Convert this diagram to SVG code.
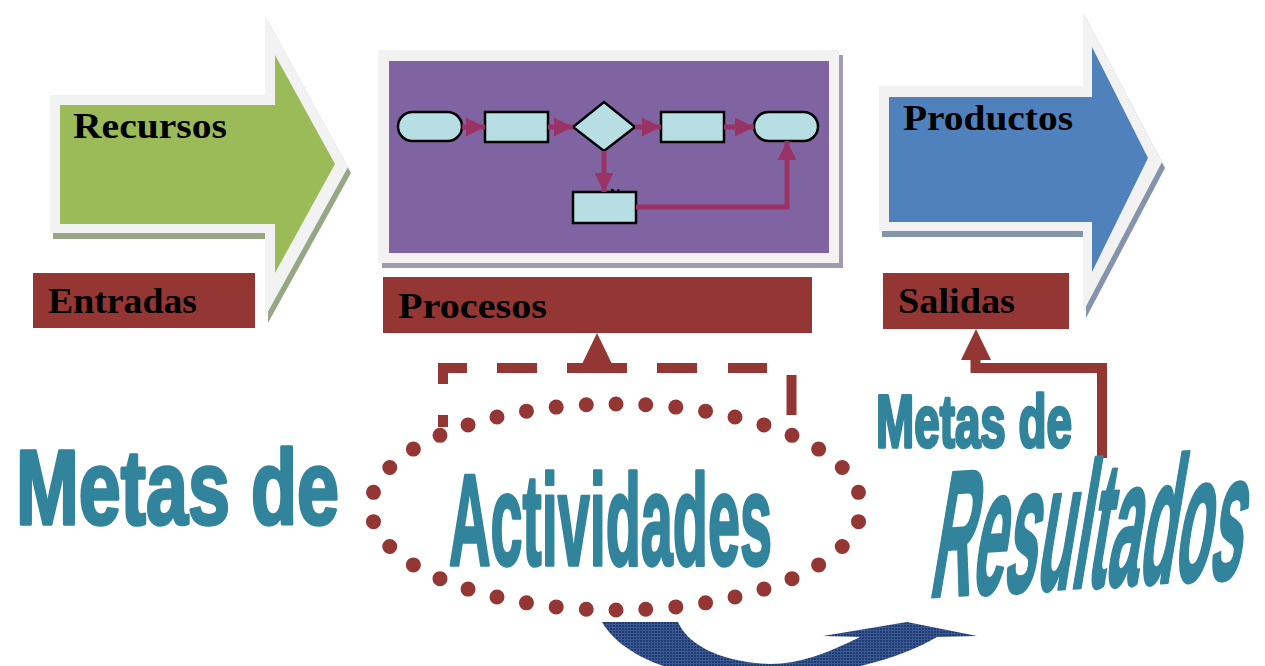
<svg xmlns="http://www.w3.org/2000/svg" width="1265" height="666" viewBox="0 0 1265 666">
<style>
.lbl{font-family:"Liberation Serif","DejaVu Serif",serif;font-weight:bold;font-size:35px;fill:#000}
.big{font-family:"Liberation Sans Narrow","Liberation Sans",Arial,sans-serif;font-weight:bold;fill:#31849b;stroke:#31849b;stroke-width:3.5;stroke-linejoin:round}
.box{fill:#943634}
.frame{fill:#f2f2f2}
.fc{fill:#b7dfe3;stroke:#000;stroke-width:2.5}
.conn{fill:none;stroke:#993366;stroke-width:5}
.red{fill:none;stroke:#943634;stroke-width:10}
.redf{fill:#943634}
</style>
<defs>
<marker id="fa" viewBox="0 0 10 10" refX="10" refY="5" markerWidth="3.8" markerHeight="4.2" orient="auto" markerUnits="strokeWidth">
<path d="M0,0 L10,5 L0,10 Z" fill="#993366"/>
</marker>
<pattern id="navy" width="3" height="3" patternUnits="userSpaceOnUse">
<rect width="3" height="3" fill="#1d3a72"/>
<path d="M0,0.5 H3 M0.5,0 V3" stroke="#3d5a92" stroke-width="1"/>
</pattern>
</defs>

<g id="node-recursos">
<path d="M53,101 H268 V21 L351,173 L268,323 V239 H53 Z" fill="#97a786"/>
<path d="M50,95 H265 V15 L348,167 L265,317 V233 H50 Z" class="frame"/>
<path d="M60,105 H275 V55 L335,164 L275,273 V224 H60 Z" fill="#9bbb59"/>
<text class="lbl" x="73" y="138" textLength="154" lengthAdjust="spacingAndGlyphs">Recursos</text>
</g>

<g id="node-entradas">
<rect class="box" x="33" y="273" width="222" height="55"/>
<text class="lbl" x="48" y="313" textLength="149" lengthAdjust="spacingAndGlyphs">Entradas</text>
</g>

<g id="node-procesos-panel">
<rect x="382" y="55" width="461" height="213" fill="#a19ab0"/>
<rect class="frame" x="378" y="50" width="461" height="213"/>
<rect x="389" y="61" width="440" height="192" fill="#8064a2"/>
</g>

<g id="flow-shapes">
<rect id="fc-start" class="fc" x="398" y="112" width="64" height="29" rx="14.5"/>
<rect id="fc-step1" class="fc" x="485" y="112" width="63" height="30"/>
<path id="fc-decision" class="fc" d="M573,127 L604,102 L635,127 L604,151 Z"/>
<rect id="fc-step2" class="fc" x="661" y="112" width="63" height="30"/>
<rect id="fc-end" class="fc" x="754" y="112" width="64" height="29" rx="14.5"/>
<text x="610" y="199" font-family="Liberation Sans,Arial,sans-serif" font-size="14" font-weight="bold" fill="#000">No</text>
<rect id="fc-step3" class="fc" x="573" y="192" width="63" height="31"/>
</g>

<g id="node-procesos">
<rect class="box" x="383" y="277" width="429" height="56"/>
<text class="lbl" x="398" y="318" textLength="149" lengthAdjust="spacingAndGlyphs">Procesos</text>
</g>

<g id="node-productos">
<path d="M882,92 H1086 V18 L1165,168 L1086,318 V237 H882 Z" fill="#8494ac"/>
<path d="M879,86 H1083 V12 L1162,162 L1083,312 V231 H879 Z" class="frame"/>
<path d="M889,97 H1092 V47 L1148,158 L1092,272 V222 H889 Z" fill="#4f81bd"/>
<text class="lbl" x="903" y="130" textLength="170" lengthAdjust="spacingAndGlyphs">Productos</text>
</g>

<g id="node-salidas">
<rect class="box" x="883" y="273" width="186" height="56"/>
<text class="lbl" x="898" y="313" textLength="117" lengthAdjust="spacingAndGlyphs">Salidas</text>
</g>

<g id="connectors">
<path class="conn" d="M462,127 H485" marker-end="url(#fa)"/>
<path class="conn" d="M548,127 H573" marker-end="url(#fa)"/>
<path class="conn" d="M635,127 H661" marker-end="url(#fa)"/>
<path class="conn" d="M724,127 H754" marker-end="url(#fa)"/>
<path class="conn" d="M604,151 V192" marker-end="url(#fa)"/>
<path class="conn" d="M636,207 H787 V141" marker-end="url(#fa)"/>
<g id="bracket-actividades">
<path class="red" d="M443,384 V368 H467"/>
<path class="red" d="M497,368 H537 M567,368 H627 M657,368 H697 M728,368 H767 M443,415 V427 M791.5,375 V415"/>
<path class="redf" d="M582,364 L612,364 L597,333 Z"/>
</g>
<g id="arrow-resultados">
<path class="red" d="M1102,458 V368 H975.5 V356"/>
<path class="redf" d="M961,360 L991,360 L976,329 Z"/>
</g>
<path id="curved-arrow" d="M602,622 L678,622 C688,645 720,662 770,664 C800,664 830,652 860,637 L823,636 L907,622 L977,636 L937,637 C915,650 880,664 830,672 L700,674 C650,668 615,645 602,622 Z" fill="url(#navy)"/>
</g>

<g id="metas-actividades">
<text class="big" x="16" y="524" font-size="106" textLength="323" lengthAdjust="spacingAndGlyphs">Metas de</text>
<path d="M616,404 A245,103 0 1,1 616,610 A245,103 0 1,1 616,404" fill="none" stroke="#943634" stroke-width="15" stroke-linecap="round" pathLength="38" stroke-dasharray="0 1"/>
<text class="big" x="449" y="565" font-size="130" textLength="323" lengthAdjust="spacingAndGlyphs">Actividades</text>
</g>

<g id="metas-resultados">
<text class="big" x="876" y="447" font-size="75" textLength="196" lengthAdjust="spacingAndGlyphs">Metas de</text>
<text class="big" transform="translate(928,597) rotate(-3.5) skewX(-13)" x="0" y="0" font-size="178" textLength="312" lengthAdjust="spacingAndGlyphs">Resultados</text>
</g>
</svg>
